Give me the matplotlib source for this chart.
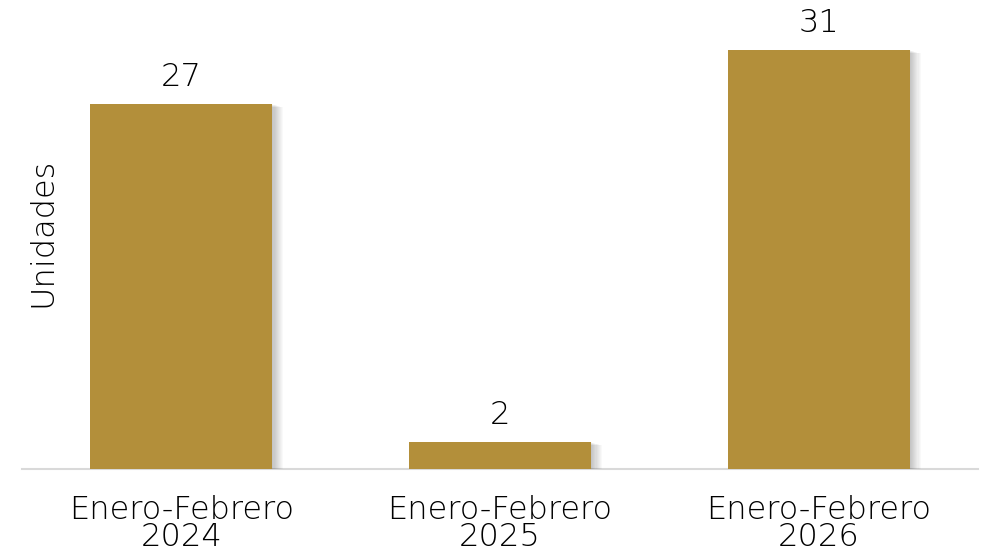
import matplotlib.pyplot as plt
import matplotlib.patheffects as pe

categories = ['Enero-Febrero\n2024', 'Enero-Febrero\n2025', 'Enero-Febrero\n2026']
values = [27, 2, 31]

bar_color = '#B38F3A'
font = 'DejaVu Sans'
txt = '#000000'

fig = plt.figure(figsize=(9.88, 5.57), dpi=100)
W, H = 988, 557
ax = fig.add_axes([22 / W, (H - 469) / H, 956 / W, 469 / H])

x = range(len(categories))
bars = ax.bar(x, values, width=0.571, color=bar_color, zorder=3)

# soft shadow on the right side
shadow = []
for i in range(1, 11):
    shadow.append(pe.SimplePatchShadow(offset=(i * 0.8, -i * 0.25), shadow_rgbFace='black', alpha=0.025))
shadow.append(pe.Normal())
for b in bars:
    b.set_path_effects(shadow)

for xi, v in zip(x, values):
    ax.text(xi, v + 0.9, str(v), ha='center', va='bottom', fontsize=23, family=font,
            weight='light', color=txt)

ax.set_xlim(-0.5, 2.5)
ax.set_ylim(0, 469 / 13.52)
ax.set_xticks(list(x))
ax.set_xticklabels(categories, fontsize=23, family=font, weight='light', color=txt, linespacing=0.85)
ax.tick_params(axis='x', length=0, pad=19)
ax.set_yticks([])
for s in ['top', 'right', 'left']:
    ax.spines[s].set_visible(False)
ax.spines['bottom'].set_color('#D9D9D9')
ax.spines['bottom'].set_linewidth(1.5)

fig.text(42 / W, 1 - 232 / H, 'Unidades', rotation=90, ha='center', va='center',
         fontsize=23, family=font, weight='light', color=txt)

fig.savefig('out.png', dpi=100, facecolor='white')
